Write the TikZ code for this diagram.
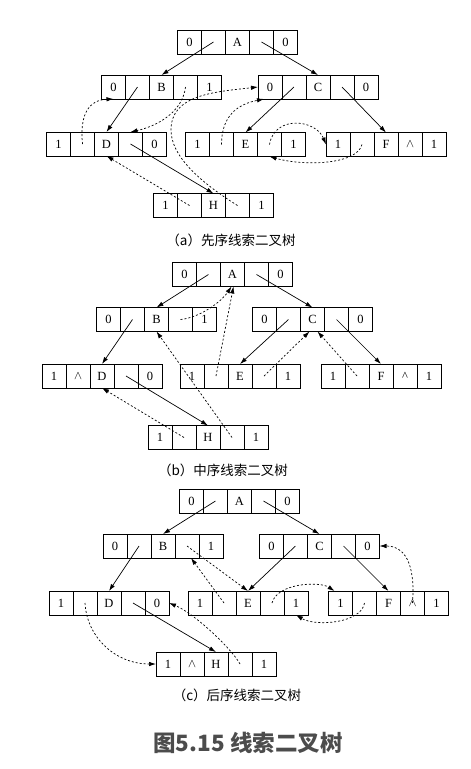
\documentclass[tikz,border=0pt]{standalone}
\usepackage{fontspec}
\setmainfont{Liberation Serif}
\newfontfamily\cjk{Noto Sans CJK SC}
\usetikzlibrary{positioning,arrows.meta}

% one record: ltag | lchild | data | rchild | rtag
\newcommand{\thrnode}[7]{%
  \node[cell] (#13) at (#2) {#5};
  \node[cell, left=0pt of #13] (#12) {#4};
  \node[cell, left=0pt of #12] (#11) {#3};
  \node[cell, right=0pt of #13] (#14) {#6};
  \node[cell, right=0pt of #14] (#15) {#7};
}

\begin{document}
\begin{tikzpicture}[x=1pt, y=-1pt,
    cell/.style={draw, line width=1pt, minimum width=24pt, minimum height=24pt,
      inner sep=0pt, outer sep=0pt, font=\fontsize{12.5}{12.5}\selectfont},
    tree/.style={-{Latex[length=7pt,width=4.5pt]}, line width=0.7pt},
    thread/.style={tree, dash pattern=on 2pt off 2pt},
    caption/.style={font=\cjk\fontsize{13.5}{16}\selectfont}]
    \useasboundingbox (0,0) rectangle (471,769);

    % (a) Preorder
    \thrnode{aA}{237.5,42}{0}{}{A}{}{0}
    \thrnode{aB}{161.5,87}{0}{}{B}{}{1}
    \thrnode{aC}{318,87}{0}{}{C}{}{0}
    \thrnode{aD}{106.5,144}{1}{}{D}{}{0}
    \thrnode{aE}{245.5,144.5}{1}{}{E}{}{1}
    \thrnode{aF}{386,144.5}{1}{}{F}{$\wedge$}{1}
    \thrnode{aH}{213.5,205.5}{1}{}{H}{}{1}

    % Children
    \draw[tree] (aA2.center) -- (aB3.north);
    \draw[tree] (aA4.center) -- (aC3.north);
    \draw[tree] (aB2.center) -- (aD3.north);
    \draw[tree] (aC2.center) -- (aE3.north);
    \draw[tree] (aC4.center) -- (aF3.north);
    \draw[tree] (aD4.center) -- (aH3.north);

    % Threads
    \draw[thread] (aD2.center) .. controls +(-3,-29) and +(-25,1) .. (aB1.south);
    \draw[thread] (aB4.center) .. controls +(-3,25) and +(27,-6) .. (aD4.north);
    \draw[thread] (aH2.center) -- (aD3.south);
    \draw[thread] (aH4.center) .. controls +(-40,-25) and +(0,25) .. (171,130)
                               .. controls +(0,-35) and +(-45,5) .. (aC1.west);
    \draw[thread] (aE2.center) .. controls +(0,-30) and +(-25,5) .. ([xshift=-6pt]aC1.south);
    \draw[thread] (aE4.center) .. controls +(5,-30) and +(-10,-25) .. (aF1.west);
    \draw[thread] (aF2.center) .. controls +(-5,20) and +(35,10) .. (aE4.south);

    \node[caption] (capa) at (231,240) {（a）先序线索二叉树};

    % (b) Inorder
    \thrnode{bA}{232.5,274.5}{0}{}{A}{}{0}
    \thrnode{bB}{156.5,319.5}{0}{}{B}{}{1}
    \thrnode{bC}{312.5,319.5}{0}{}{C}{}{0}
    \thrnode{bD}{102,376}{1}{$\wedge$}{D}{}{0}
    \thrnode{bE}{240,376}{1}{}{E}{}{1}
    \thrnode{bF}{381,376}{1}{}{F}{\textasciicircum}{1}
    \thrnode{bH}{208,437.5}{1}{}{H}{}{1}

    % Children
    \draw[tree] (bA2.center) -- (bB3.north);
    \draw[tree] (bA4.center) -- (bC3.north);
    \draw[tree] (bB2.center) -- (bD3.north);
    \draw[tree] (bC2.center) -- (bE3.north);
    \draw[tree] (bC4.center) -- (bF3.north);
    \draw[tree] (bD4.center) -- (bH3.north);

    % Threads
    \draw[thread] (bB4.center) .. controls +(20,-2) and +(-10,15) .. ([xshift=-1pt]bA3.south);
    \draw[thread] (bE2.center) -- ([xshift=1pt]bA3.south);
    \draw[thread] (bH2.center) -- (bD3.south);
    \draw[thread] (bH4.center) -- (bB3.south);
    \draw[thread] (bE4.center) -- ([xshift=-3pt]bC3.south);
    \draw[thread] (bF2.center) -- ([xshift=5pt]bC3.south);

    \node[caption] (capb) at (223,470) {（b）中序线索二叉树};

    % (c) Postorder
    \thrnode{cA}{239.5,501}{0}{}{A}{}{0}
    \thrnode{cB}{163,546}{0}{}{B}{}{1}
    \thrnode{cC}{319.5,546}{0}{}{C}{}{0}
    \thrnode{cD}{109,603}{1}{}{D}{}{0}
    \thrnode{cE}{248,603}{1}{}{E}{}{1}
    \thrnode{cF}{388.5,603}{1}{}{F}{$\wedge$}{1}
    \thrnode{cH}{216,664}{1}{$\wedge$}{H}{}{1}

    % Children
    \draw[tree] (cA2.center) -- (cB3.north);
    \draw[tree] (cA4.center) -- (cC3.north);
    \draw[tree] (cB2.center) -- (cD3.north);
    \draw[tree] (cC2.center) -- (cE3.north);
    \draw[tree] (cC4.center) -- (cF3.north);
    \draw[tree] (cD4.center) -- (cH3.north);

    % Threads
    \draw[thread] (cD2.center) .. controls +(2,35) and +(-40,0) .. (cH1.west);
    \draw[thread] (cH4.center) .. controls +(-8,-15) and +(25,10) .. (cD5.east);
    \draw[thread] (cB4.center) -- (cE3.north);
    \draw[thread] (cE2.center) -- ([xshift=4pt]cB4.south);
    \draw[thread] (cE4.center) .. controls +(5,-20) and +(-15,-10) .. ([xshift=-6pt]cF1.north);
    \draw[thread] (cF2.center) .. controls +(-3,20) and +(20,12) .. (cE5.south);
    \draw[thread] (cF4.center) .. controls +(3,-40) and +(25,0) .. (cC5.east);

    \node[caption] (capc) at (237,695) {（c）后序线索二叉树};

    % Title
    \node[font=\cjk\bfseries\fontsize{22.5}{26}\selectfont, text=black!70] (title) at (248,743) {图5.15 线索二叉树};
\end{tikzpicture}
\end{document}
